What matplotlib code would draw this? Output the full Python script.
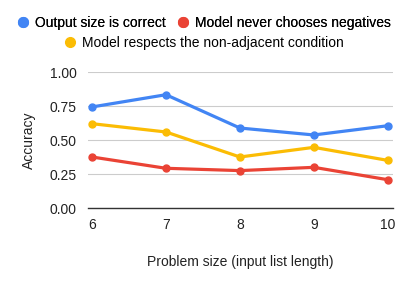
import matplotlib
matplotlib.use("Agg")
import matplotlib.pyplot as plt
from matplotlib.lines import Line2D

plt.rcParams['font.family'] = ['Liberation Sans', 'DejaVu Sans']

sizes = [6, 7, 8, 9, 10]
output_size_correct = [0.743, 0.833, 0.588, 0.537, 0.605]
never_negatives = [0.375, 0.292, 0.275, 0.299, 0.208]
non_adjacent = [0.62, 0.559, 0.375, 0.446, 0.35]
yticks = [0.0, 0.25, 0.5, 0.75, 1.0]
ytick_labels = ["0.00", "0.25", "0.50", "0.75", "1.00"]

labels = ["Output size is correct", "Model never chooses negatives",
          "Model respects the non-adjacent condition"]
colors = ["#4285F4", "#EA4335", "#FBBC04"]

W, H = 407, 286
fig = plt.figure(figsize=(W / 100, H / 100), dpi=100)
ax = fig.add_axes([88 / W, 1 - 208 / H, (393 - 88) / W, (208 - 72) / H])

for vals, c in zip([output_size_correct, never_negatives, non_adjacent], colors):
    ax.plot(sizes, vals, color=c, lw=2.3, marker='o', ms=5, zorder=3,
            solid_capstyle='round')

ax.set_xlim(5.946, 10.07)
ax.set_ylim(0, 1.0)
ax.set_xticks(sizes)
ax.set_xticklabels([str(s) for s in sizes])
ax.set_yticks(yticks)
ax.set_yticklabels(ytick_labels)
ax.tick_params(length=0, labelsize=10, colors='#222222', pad=7)
ax.tick_params(axis='y', pad=8)
for s in ['top', 'right', 'left']:
    ax.spines[s].set_visible(False)
ax.spines['bottom'].set_color('#333333')
ax.spines['bottom'].set_linewidth(1.0)
ax.grid(axis='y', color='#cccccc', lw=0.8)
ax.set_axisbelow(True)
ax.set_xlabel("Problem size (input list length)", fontsize=10, labelpad=17, color='#222222')
ax.set_ylabel("Accuracy", fontsize=10, labelpad=10, color='#222222')

handles = [Line2D([], [], color=c, marker='o', ls='none', ms=7) for c in colors]
leg1 = fig.legend(handles[:2], labels[:2], ncol=2, loc='center', bbox_to_anchor=(0.5, 1 - 23 / H),
                  frameon=False, fontsize=10, handletextpad=0.35, columnspacing=0.8,
                  handlelength=1.0, borderpad=0)
leg2 = fig.legend(handles[2:], labels[2:], ncol=1, loc='center', bbox_to_anchor=(0.5, 1 - 43 / H),
                  frameon=False, fontsize=10, handletextpad=0.35, handlelength=1.0, borderpad=0)
fig.add_artist(leg1)

fig.savefig("out.png", dpi=100)
